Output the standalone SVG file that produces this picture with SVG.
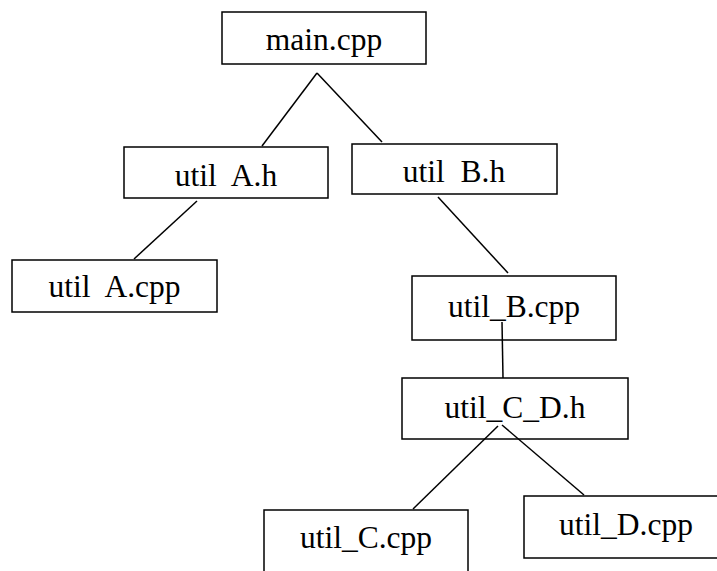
<svg xmlns="http://www.w3.org/2000/svg" width="717" height="571" viewBox="0 0 717 571">
<style>
rect{fill:#fff;stroke:#000;stroke-width:1.5}
line{stroke:#000;stroke-width:1.5}
text{font-family:"Liberation Serif","Times New Roman",serif;font-size:31.5px;fill:#000;text-anchor:middle;white-space:pre}
</style>
<rect x="0" y="0" width="717" height="571" style="stroke:none"/>
<g id="main_cpp"><rect x="222" y="12" width="204" height="52"/><text x="324" y="50">main.cpp</text></g>
<g id="util_A_h"><rect x="124" y="147" width="204" height="51"/><text x="226" y="186" xml:space="preserve">util  A.h</text></g>
<g id="util_B_h"><rect x="352" y="144" width="205" height="50"/><text x="454" y="182" xml:space="preserve">util  B.h</text></g>
<g id="util_A_cpp"><rect x="12" y="260" width="205" height="52"/><text x="114.5" y="297" xml:space="preserve">util  A.cpp</text></g>
<g id="util_B_cpp"><rect x="412" y="276" width="204" height="64"/><text x="514" y="317">util_B.cpp</text></g>
<g id="util_C_D_h"><rect x="402" y="378" width="226" height="61"/><text x="515" y="418">util_C_D.h</text></g>
<g id="util_C_cpp"><rect x="264" y="510" width="204" height="80"/><text x="366" y="548">util_C.cpp</text></g>
<g id="util_D_cpp"><rect x="524" y="496" width="210" height="62"/><text x="626" y="535">util_D.cpp</text></g>
<g id="connectors">
<line x1="317" y1="73" x2="262" y2="146"/>
<line x1="317" y1="73" x2="382" y2="142"/>
<line x1="197" y1="201" x2="134" y2="259"/>
<line x1="438" y1="197" x2="508" y2="273"/>
<line x1="502" y1="322" x2="503" y2="378"/>
<line x1="498" y1="426" x2="413" y2="509"/>
<line x1="502" y1="425" x2="584" y2="495"/>
</g>
</svg>
